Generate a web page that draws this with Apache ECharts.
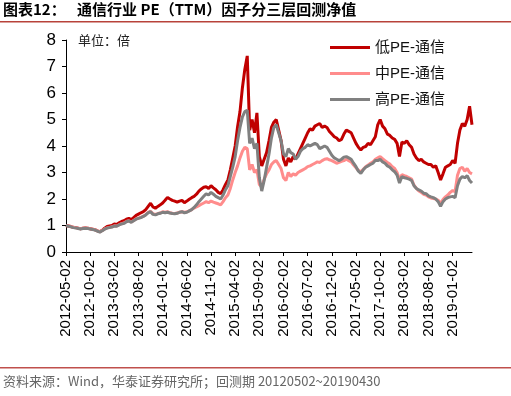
<!DOCTYPE html>
<html>
<head>
<meta charset="utf-8">
<script src="https://cdn.jsdelivr.net/npm/echarts@6/dist/echarts.min.js"></script>
<style>
  html, body { margin: 0; padding: 0; background: #fff; }
  #chart { width: 511px; height: 396px; }
</style>
</head>
<body>
<div id="chart"></div>
<script>
// 坐标轴上显示的日期（每5个月一个）
const tickLabels = ['2012-05-02', '2012-10-02', '2013-03-02', '2013-08-02', '2014-01-02', '2014-06-02',
    '2014-11-02', '2015-04-02', '2015-09-02', '2016-02-02', '2016-07-02', '2016-12-02', '2017-05-02',
    '2017-10-02', '2018-03-02', '2018-08-02', '2019-01-02'];

// 半月取样的净值（从图上读出来的近似值）
const lowPE = [
    1.00, 0.98, 0.96, 0.93, 0.92, 0.90, 0.88, 0.90, 0.91, 0.90,
    0.88, 0.86, 0.84, 0.80, 0.77, 0.82, 0.90, 0.96, 0.98, 1.00,
    1.06, 1.04, 1.10, 1.15, 1.18, 1.24, 1.27, 1.22, 1.30, 1.38,
    1.43, 1.48, 1.52, 1.60, 1.72, 1.84, 1.70, 1.65, 1.72, 1.78,
    1.85, 1.95, 2.06, 2.00, 1.95, 1.92, 1.88, 1.92, 1.95, 1.86,
    1.92, 1.99, 2.05, 2.10, 2.18, 2.30, 2.38, 2.44, 2.46, 2.40,
    2.50, 2.42, 2.35, 2.25, 2.20, 2.35, 2.55, 2.72, 3.10, 3.55,
    4.00, 4.73, 5.30, 6.20, 6.90, 7.40, 4.60, 5.00, 4.50, 5.25,
    3.60, 3.25, 3.50, 3.75, 4.20, 4.70, 4.90, 5.00, 4.60, 4.20,
    3.50, 3.25, 3.55, 3.40, 3.60, 3.50, 3.70, 3.90, 4.10, 4.30,
    4.50, 4.65, 4.60, 4.75, 4.80, 4.85, 4.70, 4.75, 4.70, 4.55,
    4.45, 4.35, 4.30, 4.20, 4.25, 4.45, 4.60, 4.55, 4.50, 4.30,
    4.10, 3.95, 3.85, 3.95, 3.98, 4.10, 4.05, 4.20, 4.35, 4.80,
    5.00, 4.75, 4.65, 4.45, 4.40, 4.30, 4.25, 4.10, 3.60, 4.15,
    4.10, 4.20, 4.05, 3.95, 3.70, 3.55, 3.45, 3.50, 3.40, 3.35,
    3.30, 3.30, 3.20, 3.25, 3.00, 2.72, 2.95, 3.20, 3.25, 3.30,
    3.45, 3.35, 4.10, 4.60, 4.85, 4.75, 5.00, 5.50, 4.80
];
const midPE = [
    1.00, 0.98, 0.96, 0.93, 0.92, 0.90, 0.88, 0.90, 0.91, 0.90,
    0.88, 0.86, 0.84, 0.80, 0.76, 0.81, 0.87, 0.91, 0.93, 0.95,
    0.99, 0.98, 1.03, 1.07, 1.10, 1.15, 1.18, 1.13, 1.19, 1.25,
    1.28, 1.31, 1.35, 1.41, 1.50, 1.54, 1.44, 1.42, 1.45, 1.47,
    1.52, 1.50, 1.52, 1.48, 1.46, 1.45, 1.47, 1.50, 1.52, 1.50,
    1.52, 1.55, 1.60, 1.66, 1.70, 1.75, 1.80, 1.85, 1.90, 1.86,
    1.92, 1.88, 1.85, 1.82, 1.78, 1.90, 2.05, 2.15, 2.40, 2.72,
    3.00, 3.25, 3.55, 3.80, 3.95, 3.90, 3.10, 3.30, 3.00, 3.10,
    2.55, 2.45, 2.75, 2.95, 3.10, 3.30, 3.40, 3.45, 3.30, 3.15,
    2.80, 2.70, 3.00, 2.85, 2.95, 2.90, 3.00, 3.05, 3.10, 3.15,
    3.22, 3.25, 3.30, 3.35, 3.40, 3.38, 3.45, 3.50, 3.52, 3.48,
    3.45, 3.40, 3.35, 3.38, 3.42, 3.45, 3.50, 3.45, 3.40, 3.28,
    3.18, 3.08, 3.03, 3.12, 3.22, 3.28, 3.35, 3.40, 3.50, 3.55,
    3.60, 3.52, 3.45, 3.38, 3.32, 3.22, 3.15, 3.00, 2.72, 2.92,
    2.88, 2.85, 2.80, 2.75, 2.52, 2.40, 2.30, 2.25, 2.18, 2.15,
    2.08, 2.04, 2.02, 2.00, 1.95, 1.84, 1.98, 2.08, 2.15, 2.25,
    2.32, 2.28, 2.90, 3.15, 3.20, 3.05, 3.15, 3.00, 2.95
];
const highPE = [
    1.00, 0.97, 0.95, 0.92, 0.91, 0.89, 0.87, 0.89, 0.90, 0.89,
    0.87, 0.85, 0.83, 0.79, 0.75, 0.80, 0.86, 0.90, 0.92, 0.94,
    0.98, 0.97, 1.02, 1.06, 1.08, 1.14, 1.17, 1.12, 1.18, 1.24,
    1.27, 1.30, 1.34, 1.40, 1.48, 1.52, 1.42, 1.40, 1.44, 1.46,
    1.50, 1.48, 1.50, 1.47, 1.45, 1.44, 1.46, 1.50, 1.52, 1.48,
    1.50, 1.55, 1.60, 1.68, 1.78, 1.90, 2.00, 2.10, 2.20, 2.15,
    2.25, 2.18, 2.10, 2.05, 2.00, 2.15, 2.35, 2.50, 2.85, 3.20,
    3.60, 4.20, 4.70, 5.10, 5.30, 5.35, 4.10, 4.30, 3.90, 4.10,
    2.80, 2.30, 2.70, 3.20, 3.70, 4.30, 4.70, 4.80, 4.50, 4.20,
    3.70, 3.60, 3.90, 3.75, 3.70, 3.50, 3.60, 3.80, 3.90, 3.95,
    4.05, 4.00, 4.05, 4.10, 4.05, 3.90, 3.95, 4.00, 3.95, 3.80,
    3.65, 3.55, 3.50, 3.45, 3.50, 3.58, 3.60, 3.55, 3.50, 3.35,
    3.22, 3.05, 2.97, 3.10, 3.20, 3.25, 3.30, 3.35, 3.45, 3.45,
    3.50, 3.40, 3.35, 3.25, 3.20, 3.10, 3.03, 2.90, 2.60, 2.85,
    2.80, 2.78, 2.75, 2.70, 2.50, 2.40, 2.34, 2.30, 2.22, 2.20,
    2.12, 2.08, 2.05, 2.00, 1.90, 1.72, 1.90, 2.00, 2.05, 2.08,
    2.10, 2.05, 2.50, 2.75, 2.85, 2.80, 2.88, 2.70, 2.60
];

// 半月一个日期：每月2号和17号，最后一天是2019-04-30
const dates = [];
for (let k = 0; k <= 84; k++) {
    const y = 2012 + Math.floor((4 + k) / 12);
    const mo = String((4 + k) % 12 + 1).padStart(2, '0');
    if (k === 84) {
        dates.push('2019-04-30');
    } else {
        dates.push(`${y}-${mo}-02`, `${y}-${mo}-17`);
    }
}

const showTick = (idx, val) => tickLabels.includes(val);
const latin = '"Liberation Sans", Arial, "Noto Sans CJK SC", sans-serif';
const cjk = '"Noto Sans CJK SC", sans-serif';

const chart = echarts.init(document.getElementById('chart'));
chart.setOption({
    animation: false,
    grid: { left: 66, right: 39, top: 40, bottom: 144 },
    legend: {
        orient: 'vertical',
        left: 325,
        top: 35,
        icon: 'rect',
        itemWidth: 40,
        itemHeight: 3,
        itemGap: 11,
        textStyle: { color: '#111', fontSize: 15, fontFamily: latin },
        data: ['低PE-通信', '中PE-通信', '高PE-通信']
    },
    xAxis: {
        type: 'category',
        data: dates,
        boundaryGap: false,
        axisLine: { lineStyle: { color: '#000', width: 1 } },
        axisTick: { interval: showTick, length: 4, lineStyle: { color: '#000' } },
        axisLabel: {
            interval: showTick,
            rotate: 90,
            margin: 8,
            color: '#000',
            fontSize: 15,
            fontFamily: latin
        }
    },
    yAxis: {
        type: 'value',
        min: 0,
        max: 8,
        interval: 1,
        splitLine: { show: false },
        axisLine: { show: true, lineStyle: { color: '#000', width: 1 } },
        axisTick: { show: true, length: 4, lineStyle: { color: '#000' } },
        axisLabel: { color: '#000', fontSize: 17, margin: 10, fontFamily: latin }
    },
    series: [
        { name: '低PE-通信', type: 'line', data: lowPE, showSymbol: false, color: '#C00000', lineStyle: { width: 3 } },
        { name: '中PE-通信', type: 'line', data: midPE, showSymbol: false, color: '#FF8C8C', lineStyle: { width: 3 } },
        { name: '高PE-通信', type: 'line', data: highPE, showSymbol: false, color: '#808080', lineStyle: { width: 3 } }
    ],
    graphic: [
        { type: 'text', left: 3, top: 2, style: { text: '图表12：', font: 'bold 15px ' + cjk, fill: '#000' } },
        { type: 'text', left: 77, top: 2, style: { text: '通信行业 PE（TTM）因子分三层回测净值', font: 'bold 15px ' + cjk, fill: '#000' } },
        { type: 'rect', shape: { x: 0, y: 21, width: 511, height: 1.5 }, style: { fill: '#B8423A' } },
        { type: 'text', left: 78, top: 34, style: { text: '单位：倍', font: '13px ' + cjk, fill: '#222' } },
        { type: 'rect', shape: { x: 0, y: 367, width: 511, height: 1.5 }, style: { fill: '#C0504D' } },
        { type: 'text', left: 3, top: 375, style: { text: '资料来源：Wind，华泰证券研究所；回测期 20120502~20190430', font: '13px ' + cjk, fill: '#666' } }
    ]
});
</script>
</body>
</html>
